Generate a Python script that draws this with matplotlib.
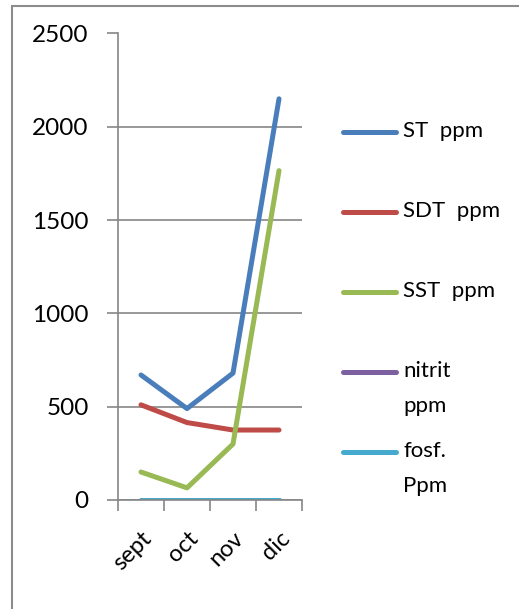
import matplotlib
matplotlib.use("Agg")
import matplotlib.pyplot as plt
from matplotlib.lines import Line2D
from matplotlib.patches import Rectangle

# datos
meses = ["sept", "oct", "nov", "dic"]
st_ppm = [670, 490, 680, 2150]
sdt_ppm = [510, 415, 375, 375]
sst_ppm = [150, 65, 300, 1765]
nitrit_ppm = [0, 0, 0, 0]
fosf_ppm = [0, 0, 0, 0]

series = [
    ("ST  ppm", st_ppm, "#4A7EBB"),
    ("SDT  ppm", sdt_ppm, "#BE4B48"),
    ("SST  ppm", sst_ppm, "#98B954"),
    ("nitrit\nppm", nitrit_ppm, "#7D60A0"),
    ("fosf.\nPpm", fosf_ppm, "#46AACE"),
]

plt.rcParams["font.family"] = ["Lato", "DejaVu Sans"]
W, H = 519, 609
fig = plt.figure(figsize=(W / 100, H / 100), dpi=100)

# marco exterior (solo se ven borde superior e izquierdo)
fig.add_artist(Rectangle((12 / W, 0 - 0.01), 1.1, 1 - 6 / H + 0.01, transform=fig.transFigure,
                         fill=False, edgecolor="#8C8C8C", linewidth=1.5))

ax = fig.add_axes([118 / W, 1 - 500 / H, (302 - 118) / W, (500 - 33.5) / H])
x = range(len(meses))
for nombre, vals, color in series:
    ax.plot(x, vals, color=color, linewidth=3.6, solid_capstyle="round", solid_joinstyle="round")

ax.set_xlim(-0.5, len(meses) - 0.5)
ax.set_ylim(0, 2500)
ax.set_yticks(range(0, 2501, 500))
ax.yaxis.grid(True, color="#868686", linewidth=1.2)
ax.set_axisbelow(True)
for s in ["top", "right"]:
    ax.spines[s].set_visible(False)
for s in ["left", "bottom"]:
    ax.spines[s].set_color("#868686")
    ax.spines[s].set_linewidth(1.2)

ax.set_xticks([i - 0.5 for i in range(len(meses) + 1)])
ax.set_xticklabels([])
ax.set_xticks(list(x), minor=True)
ax.set_xticklabels(meses, minor=True, rotation=45, ha="right", va="top", rotation_mode="anchor", fontsize=17)
for lbl in ax.get_xticklabels(minor=True):
    lbl.set_x(lbl.get_position()[0])
ax.tick_params(axis="x", which="minor", length=0, pad=20)
ax.tick_params(axis="x", which="major", length=8, color="#868686", width=1.2)
ax.tick_params(axis="y", length=8, color="#868686", width=1.2, labelsize=17.5, pad=13)

# leyenda manual a la derecha
for i, (nombre, vals, color) in enumerate(series):
    yc = 1 - (132 + 80 * i) / H
    fig.add_artist(Line2D([343 / W, 396 / W], [yc, yc], transform=fig.transFigure,
                          color=color, linewidth=3.6, solid_capstyle="round"))
    fig.text(403 / W, yc + 11 / H, nombre, fontsize=16, va="top", ha="left", linespacing=1.95)

fig.savefig("out.png", dpi=100)
